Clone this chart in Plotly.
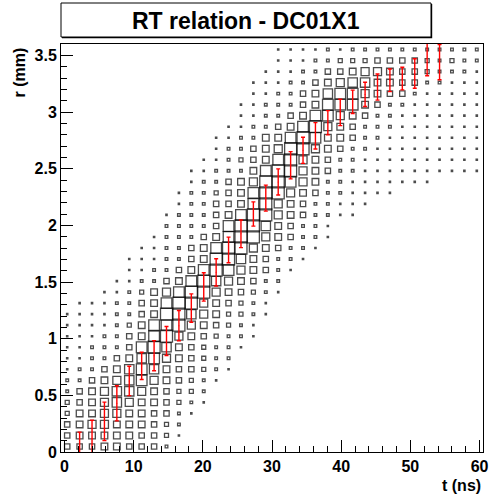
import numpy as np
import plotly.graph_objects as go

# ---------------- data ----------------
t_min, t_max, n_t = -0.5, 60.5, 34      # t axis binning (ns)
r_min, r_max, n_r = 0.0, 3.6, 37        # r axis binning (mm)

# 2D histogram contents, one entry per r bin (bottom -> top):
# (index of first non-empty t bin, contents of consecutive t bins)
hist_rows = [
    (0, "444554442"),
    (0, "4555554431"),
    (0, "4566555432"),
    (0, "35566554421"),
    (0, "345676554321"),
    (0, "245677654332"),
    (0, "2245678654321"),
    (0, "12245787544321"),
    (0, "11224578654322"),
    (0, "112224897543221"),
    (0, "1112245896543221"),
    (0, "1111235889654321"),
    (0, "11112245997653321"),
    (1, "1112245899654321"),
    (3, "112356899654321"),
    (4, "11224589765422"),
    (5, "11224589865421"),
    (5, "111224599754221"),
    (6, "112245899654221"),
    (7, "122245899654221"),
    (8, "22224899754221"),
    (8, "1222458996542211"),
    (9, "1224458965422111"),
    (9, "122345899654221111"),
    (10, "12245699865221111111"),
    (10, "112225899654221111111111"),
    (11, "11234589654221111111111"),
    (12, "1224569965422111111111"),
    (12, "1122558985542211111111"),
    (13, "112245896542221111111"),
    (14, "11224588654221111111"),
    (14, "11222458885422111111"),
    (15, "1122457886544211111"),
    (15, "1112245677554422111"),
    (16, "111224456654432221"),
    (17, "11122333444432322"),
    (17, "11112122222222222"),
]
max_content = 9

# profile (mean r and spread per t bin)
prof_bins = list(range(1, 31))
prof_mean = [0.08, 0.12, 0.27, 0.43, 0.627, 0.76, 0.85, 0.98, 1.115, 1.27,
             1.456, 1.585, 1.783, 1.925, 2.10, 2.24, 2.383, 2.53, 2.662, 2.79,
             2.905, 2.996, 3.09, 3.155, 3.22, 3.28, 3.295, 3.34, 3.47, 3.44]
prof_err = [0.095, 0.16, 0.17, 0.155, 0.13, 0.12, 0.133, 0.128, 0.133, 0.125,
            0.125, 0.12, 0.113, 0.122, 0.107, 0.115, 0.115, 0.12, 0.115, 0.116,
            0.107, 0.116, 0.103, 0.107, 0.115, 0.10, 0.10, 0.13, 0.15, 0.155]

x_ticks = [0, 10, 20, 30, 40, 50, 60]
x_tick_labels = ["0", "10", "20", "30", "40", "50", "60"]
y_ticks = [0, 0.5, 1, 1.5, 2, 2.5, 3, 3.5]
y_tick_labels = ["0", "0.5", "1", "1.5", "2", "2.5", "3", "3.5"]
title_text = "RT relation - DC01X1"
x_title = "t (ns)"
y_title = "r (mm)"

# ---------------- build ----------------
t_edges = np.linspace(t_min, t_max, n_t + 1)
r_edges = np.linspace(r_min, r_max, n_r + 1)
t_cent = 0.5 * (t_edges[:-1] + t_edges[1:])
r_cent = 0.5 * (r_edges[:-1] + r_edges[1:])

W, H = 489, 495
ML, MR, MT, MB = 61, 6, 44, 43
plot_w = W - ML - MR
plot_h = H - MT - MB
max_side = 12.0

xs, ys, sz = [], [], []
for ri, (start, digits) in enumerate(hist_rows):
    for k, ch in enumerate(digits):
        v = int(ch)
        if v > 0:
            xs.append(t_cent[start + k])
            ys.append(r_cent[ri])
            sz.append(max(v / max_content * max_side, 1.0))

FONT = "Liberation Sans, Arial, Helvetica, sans-serif"

fig = go.Figure()
fig.add_trace(go.Scatter(
    x=xs, y=ys, mode="markers",
    marker=dict(symbol="square-open", size=sz, color="black",
                line=dict(width=1.3, color="black")),
    hoverinfo="skip", showlegend=False))

fig.add_trace(go.Scatter(
    x=[t_cent[b] for b in prof_bins], y=prof_mean, mode="markers",
    marker=dict(size=1, color="red"),
    error_y=dict(type="data", array=prof_err, color="red", thickness=1.4, width=2),
    hoverinfo="skip", showlegend=False))


def px_x(x):
    return (x - ML) / plot_w


def px_y(y):
    return (H - MB - y) / plot_h


def bold(labels):
    return ["<b>%s</b>" % s for s in labels]


axis_common = dict(ticks="inside", ticklen=12, tickcolor="black", tickwidth=1,
                   showline=True, linecolor="black", linewidth=1, mirror=True,
                   showgrid=False, zeroline=False, automargin=False,
                   tickfont=dict(family=FONT, size=16, color="black", weight="bold"))

fig.update_layout(
    width=W, height=H,
    margin=dict(l=ML, r=MR, t=MT, b=MB, pad=0),
    paper_bgcolor="white", plot_bgcolor="white",
    font=dict(family=FONT, size=16, color="black"),
    xaxis=dict(range=[t_min, t_max], tickvals=x_ticks, ticktext=bold(x_tick_labels),
               minor=dict(dtick=2, ticks="inside", ticklen=6, tickcolor="black",
                          showgrid=False),
               **axis_common),
    yaxis=dict(range=[r_min, r_max], tickvals=y_ticks, ticktext=bold(y_tick_labels),
               minor=dict(dtick=0.1, ticks="inside", ticklen=6, tickcolor="black",
                          showgrid=False),
               **axis_common),
    shapes=[
        dict(type="rect", xref="paper", yref="paper",
             x0=px_x(62), x1=px_x(432.2), y0=px_y(38.2), y1=px_y(4),
             line=dict(width=0), fillcolor="black", layer="above"),
        dict(type="rect", xref="paper", yref="paper",
             x0=px_x(61), x1=px_x(431), y0=px_y(37), y1=px_y(3),
             line=dict(width=1, color="black"), fillcolor="white", layer="above"),
    ],
    annotations=[
        dict(text="<b>%s</b>" % title_text, xref="paper", yref="paper",
             x=px_x(246), y=px_y(21), xanchor="center", yanchor="middle",
             showarrow=False, font=dict(family=FONT, size=23, color="black")),
        dict(text="<b>%s</b>" % x_title, xref="paper", yref="paper",
             x=px_x(483), y=px_y(485), xanchor="right", yanchor="middle",
             showarrow=False, font=dict(family=FONT, size=16, color="black")),
        dict(text="<b>%s</b>" % y_title, xref="paper", yref="paper",
             x=px_x(18.5), y=px_y(46), xanchor="center", yanchor="top",
             textangle=-90, showarrow=False,
             font=dict(family=FONT, size=16, color="black")),
    ],
)

fig.write_html("out.html",
               config={"displayModeBar": False, "staticPlot": True},
               post_script="document.body.style.margin='0';"
                           "document.body.style.overflow='hidden';")
